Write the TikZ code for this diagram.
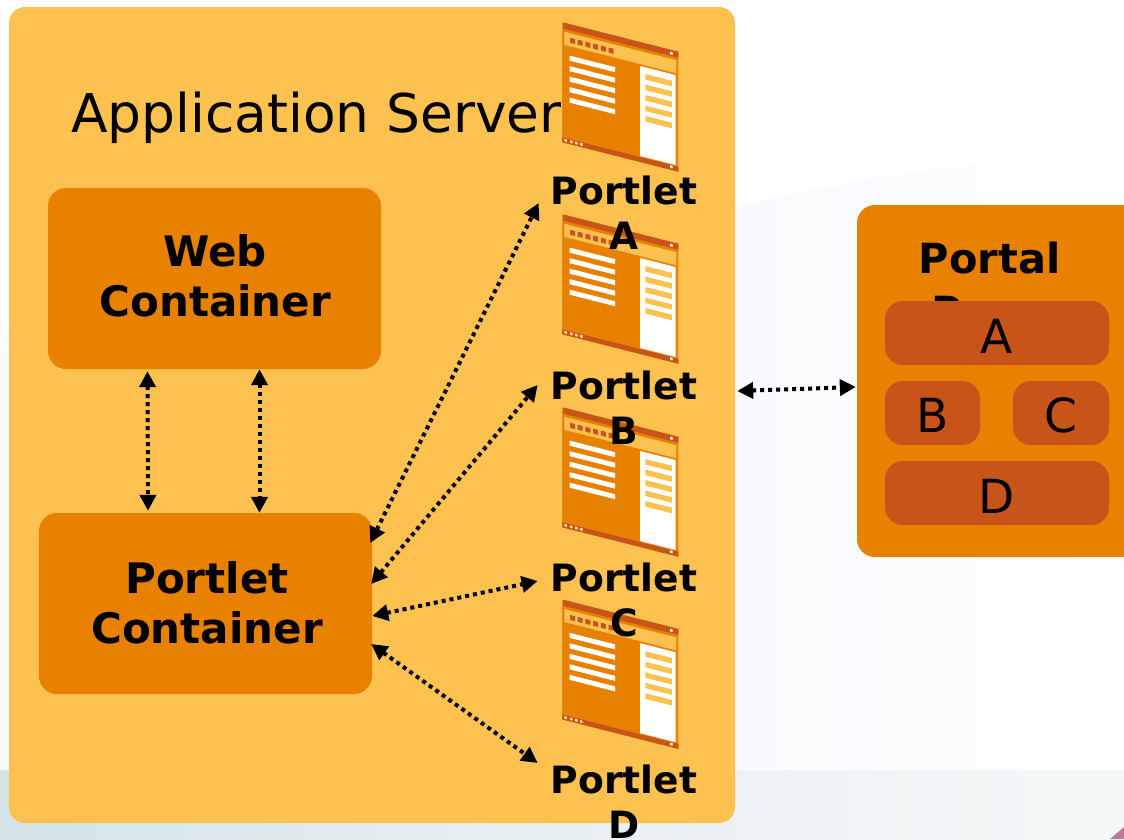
\documentclass[tikz,border=0pt]{standalone}
\usepackage{fontspec}
\setmainfont{DejaVu Sans}
\usetikzlibrary{arrows.meta,calc}
\definecolor{srv}{HTML}{FCC14F}
\definecolor{org}{HTML}{E88000}
\definecolor{rust}{HTML}{C8541A}
\definecolor{paleA}{HTML}{F8FAFD}
\definecolor{paleB}{HTML}{FDFEFF}
\definecolor{bandA}{HTML}{D5E4E8}
\definecolor{bandB}{HTML}{E9F0F2}
\definecolor{bandC}{HTML}{F4F8F9}
\definecolor{pinkc}{HTML}{BC7C98}
\newcommand{\lift}[2]{\raisebox{#1}[\height][\depth]{#2}}
\tikzset{
  panel/.style={fill=org,rounded corners=18pt,inner sep=0pt,align=center,font=\fontsize{42}{51}\bfseries\selectfont},
  slot/.style={fill=rust,rounded corners=18pt,inner sep=0pt,font=\fontsize{47}{50}\selectfont},
  plabel/.style={inner sep=0pt,align=center,font=\fontsize{37.6}{45}\bfseries\selectfont},
  link/.style={line width=4pt,dash pattern=on 4pt off 4pt,{Triangle[length=16pt,width=16pt]}-{Triangle[length=16pt,width=16pt]}},
  portlet/.pic={
    \begin{scope}[yslant=-0.2534]
      \fill[org!85!srv] (0,0) rectangle (116,120);
      \fill[org] (0,0.5) rectangle (115,119.5);
      \fill[rust] (1,0) rectangle (116,6);
      \fill[srv] (2,9) rectangle (114,22);
      \foreach \k in {0,...,5} \fill[rust] ({7.7+7.7*\k},13.5) rectangle ++(5,5);
      \foreach \k in {0,...,4} \fill[white] (7.3,{31.5+10.5*\k}) rectangle (52.7,{36.5+10.5*\k});
      \fill[white] (77.7,24) rectangle (113.3,114);
      \foreach \k in {0,...,4} \fill[srv] (83,{30.7+10.5*\k}) rectangle (109.7,{36.2+10.5*\k});
      \fill[rust] (0,115) rectangle (116,120);
      \foreach \k in {2,7.7,12.7,17.7} \fill[srv!50!white] (\k,116) rectangle ++(2.5,2.5);
      \fill[white] (107.7,2) rectangle ++(2.6,2.6);
      \fill[white] (107.7,115.6) rectangle ++(2.6,2.6);
    \end{scope}
  }
}
\begin{document}
\begin{tikzpicture}[x=1pt,y=-1pt]
\useasboundingbox (0,0) rectangle (1124,839);
\begin{scope}
\clip (0,0) rectangle (1124,839);
% background
\fill[white] (0,0) rectangle (1124,839);
\shade[left color=paleA,right color=paleB] (730,208) .. controls (840,180) and (960,162) .. (1085,157) -- (1124,157) -- (1124,770) -- (730,770) -- cycle;
\fill[paleA] (0,350) -- (9,320) -- (9,770) -- (0,770) -- cycle;
\shade[left color=bandA,right color=bandC,middle color=bandB] (0,770) rectangle (1124,839);
\fill[pinkc] (1124,827) -- (1124,839) -- (1110,839) -- cycle;
% boxes
\node[fill=srv,rounded corners=16pt,inner sep=0pt,minimum width=726pt,minimum height=816pt] (server) at (372,415) {};
\node[panel,minimum width=333pt,minimum height=181pt] (web) at (214.5,278.5) {\hspace*{1.5pt}\lift{2.5pt}{Web}\\\hspace*{1.5pt}\lift{3pt}{Container}};
\node[panel,minimum width=333pt,minimum height=181pt] (pc) at (205.5,603.5) {\hspace*{3pt}Portlet\\\hspace*{3pt}\lift{1pt}{Container}};
\node[fill=org,rounded corners=18pt,inner sep=0pt,minimum width=313pt,minimum height=352pt] (portal) at (1013.5,381) {};
\node[inner sep=0pt,align=center,font=\fontsize{41.5}{53}\bfseries\selectfont] (ptitle) at (989.5,288.5) {Portal\\Page};
\node[slot,minimum width=224pt,minimum height=64pt] (sa) at (997,333) {\lift{-3.5pt}{A}};
\node[slot,minimum width=95pt,minimum height=64pt] (sb) at (932.5,413) {\lift{-2.5pt}{B}};
\node[slot,minimum width=96pt,minimum height=64pt] (sc) at (1061,413) {\lift{-2.5pt}{C}};
\node[slot,minimum width=224pt,minimum height=64pt] (sd) at (997,493) {\lift{-3.5pt}{D}};
% title
\node[inner sep=0pt,anchor=base west,font=\fontsize{53.4}{60}\selectfont] (title) at (71,132.5) {Application Server};
% portlet icons
\pic at (562.3,22.3) {portlet};
\pic at (562.3,214.3) {portlet};
\pic at (562.3,407.3) {portlet};
\pic at (562.3,599.5) {portlet};
% portlet labels
\node[plabel] (pa) at (624,213) {Portlet\\A};
\node[plabel] (pb) at (624,408) {Portlet\\B};
\node[plabel] (pc2) at (624,600) {Portlet\\C};
\node[plabel] (pd) at (624,802) {Portlet\\D};
% connectors
\draw[link] ([xshift=-67pt,yshift=-2pt]web.south) -- ([xshift=-57.5pt,yshift=2pt]pc.north);
\draw[link] ([xshift=45pt]web.south) -- ([xshift=54pt]pc.north);
\draw[link] ([xshift=-2pt,yshift=60.5pt]pc.east) -- ([xshift=-12pt,yshift=10pt]pa.west);
\draw[link] ([xshift=-1pt,yshift=19.5pt]pc.east) -- ([xshift=-13pt,yshift=23pt]pb.west);
\draw[link] ([yshift=-12.5pt]pc.east) -- ([xshift=-13pt,yshift=19pt]pc2.west);
\draw[link] ([xshift=-1pt,yshift=-40.5pt]pc.east) -- ([xshift=-13pt,yshift=39pt]pd.west);
\draw[link] ([xshift=2pt,yshift=24pt]server.east) -- ([xshift=-1pt,yshift=-6pt]portal.west);
\end{scope}
\end{tikzpicture}
\end{document}
